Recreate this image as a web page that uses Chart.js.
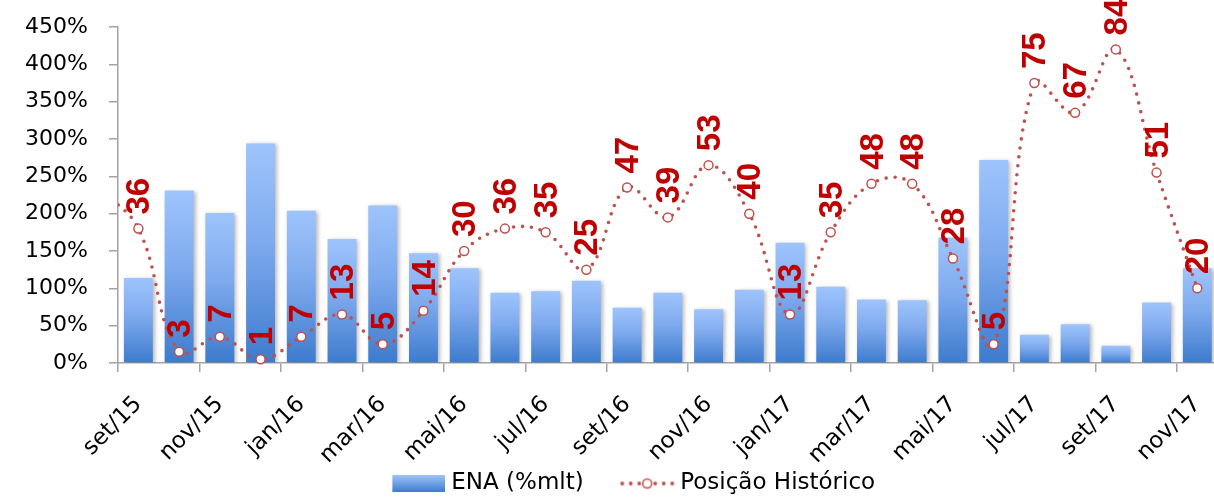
<!DOCTYPE html>
<html lang="pt-BR">
<head>
<meta charset="utf-8">
<title>ENA (%mlt) e Posição Histórico</title>
<script src="https://cdn.jsdelivr.net/npm/chart.js@4/dist/chart.umd.min.js"></script>
<style>
  html, body { margin: 0; padding: 0; overflow: hidden; background: #fff; }
  #wrap { width: 1236px; height: 497px; }
</style>
</head>
<body>
<div id="wrap"><canvas id="myChart"></canvas></div>
<script>
// ago/15 sits just left of the visible axis: only its line segment shows at the edge
const meses = [
  "ago/15", "set/15", "out/15", "nov/15", "dez/15",
  "jan/16", "fev/16", "mar/16", "abr/16", "mai/16", "jun/16",
  "jul/16", "ago/16", "set/16", "out/16", "nov/16", "dez/16",
  "jan/17", "fev/17", "mar/17", "abr/17", "mai/17", "jun/17",
  "jul/17", "ago/17", "set/17", "out/17", "nov/17",
];
const primeiroMes = "set/15";

// ENA em % da MLT
const ena = [
  null, 114, 231, 201, 294,
  204, 166, 211, 147, 127, 94,
  96, 110, 74, 94, 72, 98,
  161, 102, 85, 84, 168, 272,
  38, 52, 23, 81, 127,
];

// posição no histórico (eixo secundário 0-90)
const posicao = [
  47, 36, 3, 7, 1,
  7, 13, 5, 14, 30, 36,
  35, 25, 47, 39, 53, 40,
  13, 35, 48, 48, 28, 5,
  75, 67, 84, 51, 20,
];

const yMax = 450;
const yStep = 50;
const posMax = 90;

const inicio = meses.indexOf(primeiroMes);
const cinza = "#a3a3a3";
const vermelho = "#c0504d";

//gradient of each bar, from its top to the axis
function gradienteBarra(c) {
  const chart = c.chart;
  if (!chart.chartArea || c.raw == null) return "#6b9de2";
  const y = chart.scales.y;
  const topo = y.getPixelForValue(c.raw);
  const base = y.getPixelForValue(0);
  const g = chart.ctx.createLinearGradient(0, topo, 0, base);
  g.addColorStop(0, "#9ec4fc");
  g.addColorStop(0.45, "#7eaaee");
  g.addColorStop(1, "#3d7bcd");
  return g;
}

//legend keys (drawn in the right part of a wider canvas, so the gap sits before them)
const chaveBarra = document.createElement("canvas");
chaveBarra.width = 90;
chaveBarra.height = 17;
{
  const c = chaveBarra.getContext("2d");
  const g = c.createLinearGradient(0, 0, 0, 17);
  g.addColorStop(0, "#9ec4fc");
  g.addColorStop(1, "#3d7bcd");
  c.fillStyle = g;
  c.fillRect(37, 0, 53, 17);
}
const chaveLinha = document.createElement("canvas");
chaveLinha.width = 92;
chaveLinha.height = 14;
{
  const c = chaveLinha.getContext("2d");
  c.fillStyle = vermelho;
  [39, 47.5, 56, 72, 80.5, 89].forEach((x) => {
    c.beginPath();
    c.arc(x, 7, 1.9, 0, Math.PI * 2);
    c.fill();
  });
  c.beginPath();
  c.arc(64, 7, 4.5, 0, Math.PI * 2);
  c.fillStyle = "#fff";
  c.fill();
  c.lineWidth = 1.5;
  c.strokeStyle = vermelho;
  c.stroke();
}

//soft shadow behind the bars
const sombra = {
  id: "sombra",
  beforeDatasetDraw(chart, args) {
    if (args.index !== 0) return;
    const c = chart.ctx;
    c.save();
    c.shadowColor = "rgba(0, 0, 0, 0.28)";
    c.shadowBlur = 4;
    c.shadowOffsetX = 2;
    c.shadowOffsetY = 1;
  },
  afterDatasetDraw(chart, args) {
    if (args.index !== 0) return;
    chart.ctx.restore();
  },
};

//vertical red labels above the points
const rotulos = {
  id: "rotulos",
  afterDatasetsDraw(chart) {
    const meta = chart.getDatasetMeta(1);
    const ctx = chart.ctx;
    ctx.save();
    ctx.font = "bold 33px 'Liberation Sans'";
    ctx.fillStyle = "#c00000";
    ctx.textAlign = "left";
    ctx.textBaseline = "middle";
    meta.data.forEach((pt, i) => {
      if (i < inicio || posicao[i] == null) return;
      ctx.save();
      ctx.translate(pt.x + 2, pt.y - 14);
      ctx.rotate(-Math.PI / 2);
      ctx.fillText(String(posicao[i]), 0, 0);
      ctx.restore();
    });
    ctx.restore();
  },
};

const mostraRotulo = (idx) => (idx - inicio) % 2 === 0;

const ctx = document.getElementById("myChart");
const myChart = new Chart(ctx, {
  type: "bar",
  data: {
    labels: meses,
    datasets: [
      {
        label: "ENA (%mlt)",
        data: ena,
        order: 1,
        backgroundColor: gradienteBarra,
        borderWidth: 0,
        categoryPercentage: 1,
        barPercentage: 0.71,
        yAxisID: "y",
      },
      {
        type: "line",
        label: "Posição Histórico",
        data: posicao,
        order: 0,
        yAxisID: "y2",
        borderColor: vermelho,
        borderWidth: 3.6,
        borderDash: [0, 9],
        borderCapStyle: "round",
        tension: 0.4,
        fill: false,
        pointRadius: 4.5,
        pointBorderWidth: 1.5,
        pointBackgroundColor: "#fff",
        pointBorderColor: vermelho,
        clip: { left: 0, top: 10, right: 10, bottom: 10 },
      },
    ],
  },
  options: {
    responsive: true,
    maintainAspectRatio: false,
    animation: false,
    layout: {
      padding: { top: 27, right: 0, bottom: -8, left: 0 },
    },
    scales: {
      x: {
        min: primeiroMes,
        offset: true,
        grid: {
          offset: true,
          drawOnChartArea: false,
          tickLength: 9,
          lineWidth: 1.5,
          tickColor: (c) => (c.tick && mostraRotulo(c.tick.value) ? cinza : "rgba(0,0,0,0)"),
          color: cinza,
        },
        border: { display: true, color: cinza, width: 1.5 },
        ticks: {
          autoSkip: false,
          maxRotation: 45,
          minRotation: 45,
          padding: 19,
          labelOffset: 0,
          color: "#000",
          font: { family: "'DejaVu Sans'", size: 23 },
          callback: function (value) {
            return mostraRotulo(value) ? this.getLabelForValue(value) : "";
          },
        },
        afterFit: (scale) => {
          scale.height = 103;
        },
      },
      y: {
        min: 0,
        max: yMax,
        grid: {
          drawOnChartArea: false,
          tickLength: 9,
          lineWidth: 1.5,
          color: cinza,
        },
        border: { display: true, color: cinza, width: 1.5 },
        ticks: {
          stepSize: yStep,
          padding: 21,
          color: "#000",
          font: { family: "'DejaVu Sans'", size: 22 },
          callback: (v) => v + "%",
        },
        afterFit: (scale) => {
          scale.width = 118;
          scale.paddingTop = 0;
          scale.paddingBottom = 0;
        },
      },
      // hidden secondary axis for the position line (0-90)
      y2: {
        position: "right",
        min: 0,
        max: posMax,
        grid: { display: false },
        border: { display: false },
        ticks: { display: false },
        afterFit: (scale) => {
          scale.width = 11;
          scale.paddingTop = 0;
          scale.paddingBottom = 0;
        },
      },
    },
    plugins: {
      tooltip: { enabled: false },
      legend: {
        position: "bottom",
        labels: {
          usePointStyle: true,
          pointStyleWidth: 79,
          padding: 6,
          color: "#000",
          font: { family: "'DejaVu Sans'", size: 23 },
          sort: (a, b) => a.datasetIndex - b.datasetIndex,
          generateLabels: (chart) =>
            Chart.defaults.plugins.legend.labels.generateLabels(chart).map((item) => {
              item.pointStyle = item.datasetIndex === 0 ? chaveBarra : chaveLinha;
              return item;
            }),
        },
      },
    },
  },
  plugins: [sombra, rotulos],
});
</script>
</body>
</html>
